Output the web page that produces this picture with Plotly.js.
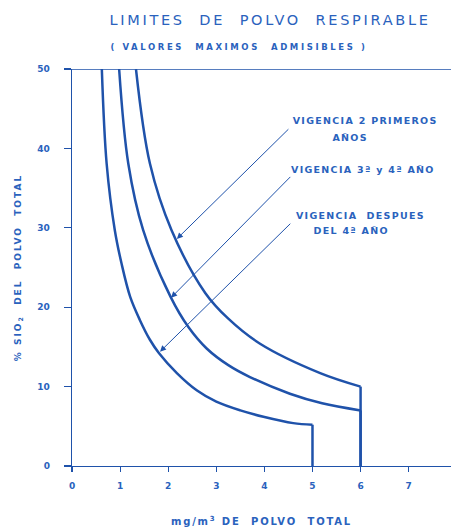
<!DOCTYPE html>
<html>
<head>
<meta charset="utf-8">
<script src="https://cdn.plot.ly/plotly-3.0.1.min.js"></script>
<style>
html,body{margin:0;padding:0;background:#fff;}
#chart{width:451px;height:531px;}
</style>
</head>
<body>
<div id="chart"></div>
<script>
// Curve: VIGENCIA 2 PRIMEROS AÑOS  (x = mg/m3, y = % SiO2)
const curveA_x = [1.33, 1.62, 2.07, 2.77, 3.25, 3.91, 5.16, 6.00];
const curveA_y = [50, 38.1, 29.7, 21.8, 18.55, 15.4, 11.7, 10.0];
// Curve: VIGENCIA 3º y 4º AÑO
const curveB_x = [0.98, 1.17, 1.48, 2.05, 2.42, 2.80, 3.25, 3.70, 4.53, 5.20, 6.00];
const curveB_y = [50, 38.1, 29.7, 21.3, 17.5, 14.8, 12.7, 11.2, 9.1, 7.9, 7.0];
// Curve: VIGENCIA DESPUES DEL 4º AÑO
const curveC_x = [0.62, 0.72, 0.89, 1.03, 1.21, 1.41, 1.62, 1.81, 2.18, 2.60, 3.00, 3.50, 3.98, 4.60, 5.00];
const curveC_y = [50, 38.1, 29.7, 25.5, 21.3, 18.4, 15.9, 14.2, 11.7, 9.5, 8.1, 7.0, 6.2, 5.4, 5.2];

const xTicks = [0, 1, 2, 3, 4, 5, 6, 7];
const yTicks = [0, 10, 20, 30, 40, 50];

// Labels (centre positions) and arrow tips / tails, in data units
const labelTexts = ["VIGENCIA 2 PRIMEROS", "AÑOS", "VIGENCIA 3ª y 4ª AÑO", "VIGENCIA  DESPUES", "DEL 4ª AÑO"];
const labelX = [6.10, 5.78, 6.06, 5.99, 5.80];
const labelY = [43.5, 41.4, 37.3, 31.6, 29.6];
const arrowTipX = [2.18, 2.06, 1.83];
const arrowTipY = [28.6, 21.2, 14.4];
const arrowTailX = [4.53, 4.57, 4.57];
const arrowTailY = [42.6, 36.6, 30.7];

const LINE = '#1f52aa';
const TEXT = '#2a62bd';
const FONT = 'DejaVu Sans';

function curveTraces(xs, ys) {
  const n = xs.length - 1;
  return [
    {x: xs, y: ys, mode: 'lines', line: {color: LINE, width: 2.5, shape: 'spline', smoothing: 1}, hoverinfo: 'skip'},
    {x: [xs[n], xs[n]], y: [ys[n], 0], mode: 'lines', line: {color: LINE, width: 2.5}, hoverinfo: 'skip'}
  ];
}

const data = [].concat(curveTraces(curveA_x, curveA_y), curveTraces(curveB_x, curveB_y), curveTraces(curveC_x, curveC_y));

const annotations = [];
for (let i = 0; i < labelTexts.length; i++) {
  annotations.push({x: labelX[i], y: labelY[i], xref: 'x', yref: 'y', text: labelTexts[i], showarrow: false,
    xanchor: 'center', yanchor: 'middle', font: {family: FONT, size: 9.5, color: TEXT, weight: 'bold'}});
}
for (let i = 0; i < arrowTipX.length; i++) {
  annotations.push({x: arrowTipX[i], y: arrowTipY[i], ax: arrowTailX[i], ay: arrowTailY[i], xref: 'x', yref: 'y',
    axref: 'x', ayref: 'y', text: '', showarrow: true, arrowhead: 2, arrowsize: 1.2, arrowwidth: 1, arrowcolor: LINE});
}
annotations.push({x: (238.5 - 72) / 379, y: (466 - 47) / 397, xref: 'paper', yref: 'paper', text: '( VALORES  MAXIMOS  ADMISIBLES )',
  showarrow: false, xanchor: 'center', yanchor: 'middle', font: {family: FONT, size: 8.5, color: TEXT, weight: 'bold'}});

const layout = {
  width: 451, height: 531,
  margin: {l: 72, r: 0, t: 69, b: 65},
  paper_bgcolor: '#fff', plot_bgcolor: '#fff',
  showlegend: false,
  title: {text: 'LIMITES  DE  POLVO  RESPIRABLE', x: 270/451, xanchor: 'center', y: 1 - 20/531, yanchor: 'middle',
    xref: 'container', yref: 'container', font: {family: FONT, size: 14.5, color: TEXT}},
  xaxis: {range: [0, 7.88], tickvals: xTicks, ticktext: xTicks.map(String), ticks: 'outside', ticklen: 5, tickwidth: 1.2,
    tickcolor: LINE, showline: true, linecolor: LINE, linewidth: 1.3, showgrid: false, zeroline: false,
    ticklabelstandoff: 6, tickfont: {family: FONT, size: 9, color: TEXT, weight: 'bold'},
    title: {text: 'mg/m<sup>3</sup> DE  POLVO  TOTAL', standoff: 28, font: {family: FONT, size: 10, color: TEXT, weight: 'bold'}}},
  yaxis: {range: [0, 50], tickvals: yTicks, ticktext: yTicks.map(String), ticks: 'outside', ticklen: 7, tickwidth: 1.2,
    tickcolor: LINE, showline: true, linecolor: LINE, linewidth: 1.3, showgrid: false, zeroline: false,
    ticklabelstandoff: 12, tickfont: {family: FONT, size: 9, color: TEXT, weight: 'bold'},
    title: {text: '% SIO<sub>2</sub>  DEL  POLVO  TOTAL', standoff: 14, font: {family: FONT, size: 9, color: TEXT, weight: 'bold'}}},
  shapes: [{type: 'line', xref: 'paper', yref: 'y', x0: 0, x1: 1, y0: 50, y1: 50, line: {color: LINE, width: 1.5}}],
  annotations: annotations
};

Plotly.newPlot('chart', data, layout, {displayModeBar: false, staticPlot: true}).then(function (gd) {
  function spacing(sel, v) {
    gd.querySelectorAll(sel).forEach(function (el) { el.setAttribute('letter-spacing', v); });
  }
  spacing('.gtitle', '2.7');
  spacing('.xtitle', '1.8');
  spacing('.ytitle', '2');
  gd.querySelectorAll('.annotation-text').forEach(function (el) {
    const t = el.textContent;
    el.setAttribute('letter-spacing', t.indexOf('VALORES') >= 0 ? '2.6' : '1.3');
  });
});
</script>
</body>
</html>
